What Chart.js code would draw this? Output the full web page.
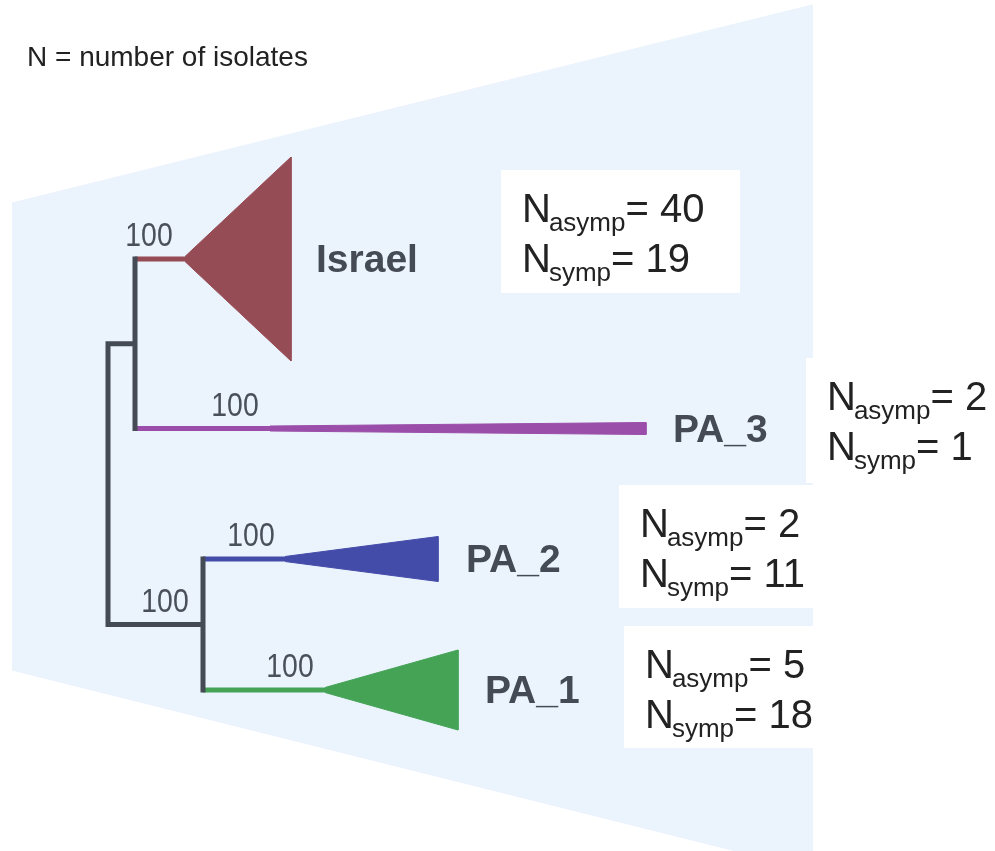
<!DOCTYPE html>
<html>
<head>
<meta charset="utf-8">
<script src="https://cdn.jsdelivr.net/npm/chart.js@4.4.0/dist/chart.umd.min.js"></script>
<style>
  html, body { margin: 0; padding: 0; background: #fff; }
  #wrap { width: 995px; height: 851px; position: relative; }
</style>
</head>
<body>
<div id="wrap"><canvas id="treeChart"></canvas></div>
<script>
// clades and isolate counts
const clades = ['Israel', 'PA_3', 'PA_2', 'PA_1'];
const nAsymp = [40, 2, 2, 5];
const nSymp = [19, 1, 11, 18];
const cladeSupport = [100, 100, 100, 100]; // bootstrap on each clade stem
const innerSupport = 100;                  // node joining PA_2 and PA_1
const noteText = 'N = number of isolates';

// tree layout (axis units)
const tree = {
    rootX: 108,
    stemFrom: [135, 135, 203, 203],
    stemTo: [185, 270, 285, 325],
    tipX: [291, 646, 438, 458],
    rowY: [259, 428.5, 559, 690],
    spread: [102, 6, 22.5, 40],
    labelX: [316, 673, 466, 485],
    supportX: [149, 235, 251, 290],
    innerSupportX: 165,
    boxes: [[501, 170, 740, 293], [806, 358, 1000, 483], [619, 485, 813, 608], [624, 626, 813, 748]],
    shade: [[12, 203], [812, 5], [812, 851], [736, 851], [12, 670]]
};
const colors = ['#964c55', '#9b4ea9', '#444ca9', '#45a356'];
const grey = '#444b55';

const pt = (x, y) => ({ x, y });

function shape(points, color, order) {
    return {
        data: points.map(p => pt(p[0], p[1])),
        borderColor: color, backgroundColor: color, borderWidth: 1,
        fill: 'shape', pointRadius: 0, order: order
    };
}
function branch(points, color, order) {
    return {
        data: points.map(p => pt(p[0], p[1])),
        borderColor: color, borderWidth: 5, fill: false, pointRadius: 0,
        borderCapStyle: 'butt', borderJoinStyle: 'miter', order: order
    };
}

const datasets = [];
datasets.push(shape(tree.shade, '#ebf3fd', 10));

// clade stems and collapsed triangles
clades.forEach((c, i) => {
    const y = tree.rowY[i];
    datasets.push(branch([[tree.stemFrom[i], y], [tree.stemTo[i], y]], colors[i], 2));
    datasets.push(shape([
        [tree.stemTo[i], y - 2.5], [tree.tipX[i], y - tree.spread[i]],
        [tree.tipX[i], y + tree.spread[i]], [tree.stemTo[i], y + 2.5]
    ], colors[i], 1));
});

// internal nodes
const nodeAY = (tree.rowY[0] + tree.rowY[1]) / 2;
const nodeBY = (tree.rowY[2] + tree.rowY[3]) / 2;
datasets.push(branch([[tree.stemFrom[0], nodeAY], [tree.rootX, nodeAY], [tree.rootX, nodeBY], [tree.stemFrom[2], nodeBY]], grey, 0));
datasets.push(branch([[tree.stemFrom[0], tree.rowY[0] - 2.5], [tree.stemFrom[1], tree.rowY[1] + 2.5]], grey, 0));
datasets.push(branch([[tree.stemFrom[2], tree.rowY[2] - 2.5], [tree.stemFrom[3], tree.rowY[3] + 2.5]], grey, 0));

// narrow number label: squeeze horizontally
function narrowText(ctx, txt, cx, by) {
    ctx.save();
    ctx.translate(cx, by);
    ctx.scale(0.86, 1);
    ctx.fillText(txt, 0, 0);
    ctx.restore();
}

const textPlugin = {
    id: 'treeText',
    afterDatasetsDraw(chart) {
        const { ctx, scales: { x, y } } = chart;
        ctx.save();
        ctx.textAlign = 'left';
        ctx.textBaseline = 'alphabetic';

        ctx.fillStyle = '#222';
        ctx.font = '28px "Liberation Sans", Arial, sans-serif';
        ctx.fillText(noteText, x.getPixelForValue(27), y.getPixelForValue(66));

        // support values
        ctx.fillStyle = '#4a5059';
        ctx.textAlign = 'center';
        ctx.font = '33px "Liberation Sans", Arial, sans-serif';
        clades.forEach((c, i) => {
            narrowText(ctx, String(cladeSupport[i]), x.getPixelForValue(tree.supportX[i]), y.getPixelForValue(tree.rowY[i] - 13));
        });
        narrowText(ctx, String(innerSupport), x.getPixelForValue(tree.innerSupportX), y.getPixelForValue(nodeBY - 13));

        // clade names
        ctx.textAlign = 'left';
        ctx.fillStyle = '#454b54';
        ctx.font = 'bold 39px "Liberation Sans", Arial, sans-serif';
        clades.forEach((c, i) => {
            ctx.fillText(c, x.getPixelForValue(tree.labelX[i]), y.getPixelForValue(tree.rowY[i] + 13));
        });

        // count boxes
        clades.forEach((c, i) => {
            const b = tree.boxes[i];
            const x0 = x.getPixelForValue(b[0]), y0 = y.getPixelForValue(b[1]);
            const x1 = x.getPixelForValue(b[2]), y1 = y.getPixelForValue(b[3]);
            ctx.fillStyle = '#fff';
            ctx.fillRect(x0, y0, x1 - x0, y1 - y0);
            ctx.fillStyle = '#222';
            countLine(ctx, x0 + 21, y0 + 52, 'asymp', nAsymp[i]);
            countLine(ctx, x0 + 21, y0 + 102, 'symp', nSymp[i]);
        });
        ctx.restore();
    }
};

function countLine(ctx, px, py, sub, val) {
    const big = '40px "Liberation Sans", Arial, sans-serif';
    ctx.font = big;
    ctx.fillText('N', px, py);
    px += ctx.measureText('N').width - 2;
    ctx.font = '26px "Liberation Sans", Arial, sans-serif';
    ctx.fillText(sub, px, py + 9);
    px += ctx.measureText(sub).width;
    ctx.font = big;
    ctx.fillText('= ' + val, px, py);
}

new Chart(document.getElementById('treeChart'), {
    type: 'line',
    data: { datasets: datasets },
    options: {
        responsive: true,
        maintainAspectRatio: false,
        animation: false,
        events: [],
        layout: { padding: 0 },
        scales: {
            x: { type: 'linear', min: 0, max: 995, display: false },
            y: { type: 'linear', min: 0, max: 851, reverse: true, display: false }
        },
        plugins: { legend: { display: false }, tooltip: { enabled: false } }
    },
    plugins: [textPlugin]
});
</script>
</body>
</html>
